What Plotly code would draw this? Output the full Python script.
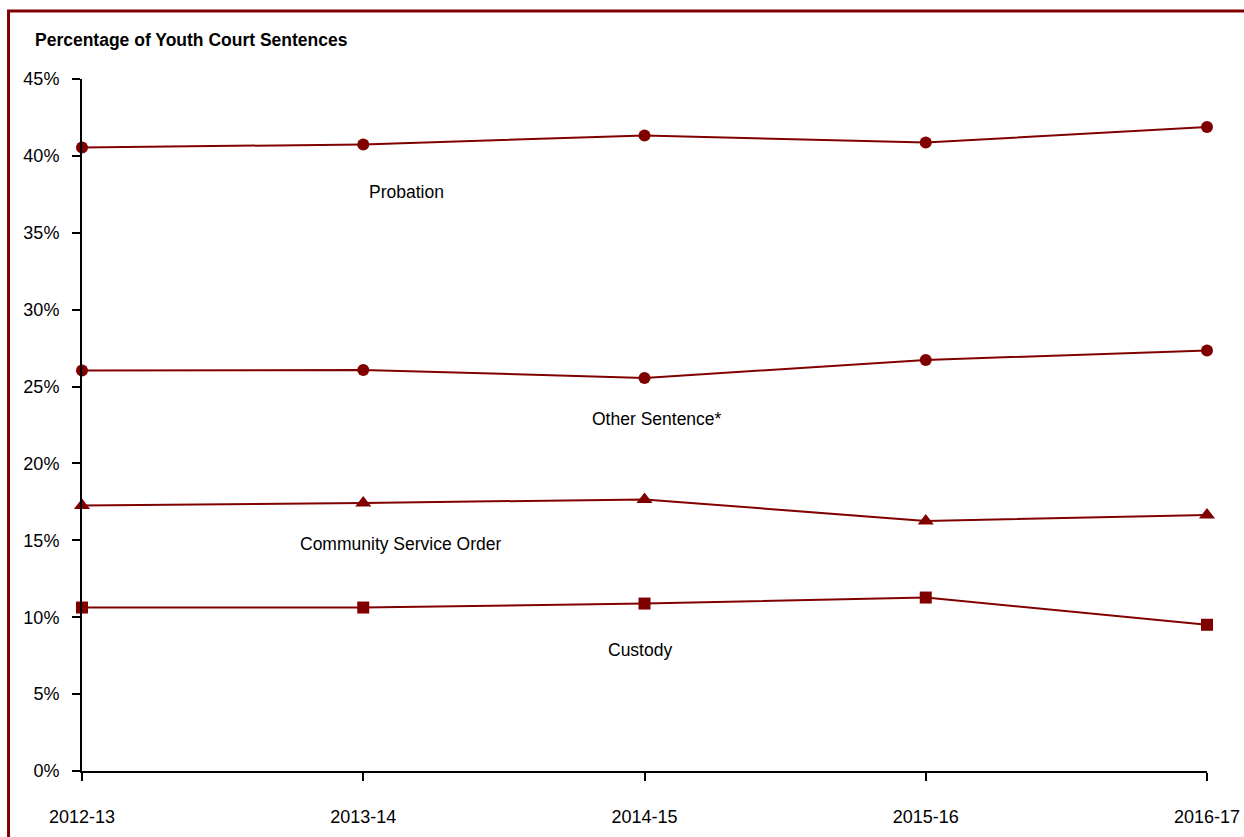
import plotly.graph_objects as go

# Youth court sentences by type, share of all sentences
years = ["2012-13", "2013-14", "2014-15", "2015-16", "2016-17"]
probation = [40.55, 40.74, 41.33, 40.87, 41.88]
other_sentence = [26.05, 26.08, 25.56, 26.73, 27.34]
community_service = [17.27, 17.43, 17.66, 16.26, 16.65]
custody = [10.63, 10.63, 10.89, 11.28, 9.51]
y_ticks = [0, 5, 10, 15, 20, 25, 30, 35, 40, 45]
y_tick_text = [f"{v}%" for v in y_ticks]

RED = "#800000"
FONT = "Liberation Sans Narrow, Arial Narrow, Liberation Sans, Arial, sans-serif"
xpos = list(range(len(years)))

series = [
    ("Probation", probation, "circle", 12),
    ("Other Sentence*", other_sentence, "circle", 12),
    ("Community Service Order", community_service, "triangle-up", 14),
    ("Custody", custody, "square", 12),
]

fig = go.Figure()
for name, vals, sym, size in series:
    fig.add_trace(go.Scatter(
        x=xpos, y=vals, name=name, mode="lines+markers",
        line=dict(color=RED, width=2),
        marker=dict(symbol=sym, size=size, color=RED),
        cliponaxis=False, showlegend=False,
    ))

# Series labels placed beside their lines
labels = [
    ("Probation", 1.152, 37.65),
    ("Other Sentence*", 2.044, 22.89),
    ("Community Service Order", 1.132, 14.76),
    ("Custody", 1.984, 7.87),
]
for text, lx, ly in labels:
    fig.add_annotation(x=lx, y=ly, xref="x", yref="y", text=text,
                       showarrow=False, font=dict(family=FONT, size=17.5, color="#000"))

# Axis heading
fig.add_annotation(x=-0.0436, y=1.0564, xref="paper", yref="paper",
                   text="<b>Percentage of Youth Court Sentences</b>",
                   xanchor="left", yanchor="middle", showarrow=False,
                   font=dict(family=FONT, size=17.5, color="#000"))

# Frame around the chart
fig.add_shape(type="rect", xref="paper", yref="paper",
              x0=-0.0653, x1=1.3, y0=-0.3, y1=1.0983,
              line=dict(color=RED, width=3), fillcolor="rgba(0,0,0,0)", layer="below")

fig.update_layout(
    width=1244, height=837,
    margin=dict(l=82, r=37, t=79, b=66, pad=0, autoexpand=False),
    paper_bgcolor="white", plot_bgcolor="white",
    font=dict(family=FONT, size=18, color="#000"),
    xaxis=dict(
        range=[0, 4], tickmode="array", tickvals=xpos, ticktext=years,
        showline=True, linecolor="#000", linewidth=2,
        ticks="outside", ticklen=8, tickwidth=2, tickcolor="#000",
        showgrid=False, zeroline=False, ticklabelstandoff=20,
        automargin=False,
    ),
    yaxis=dict(
        range=[0, 45], tickmode="array", tickvals=y_ticks, ticktext=y_tick_text,
        showline=True, linecolor="#000", linewidth=2,
        ticks="outside", ticklen=8, tickwidth=2, tickcolor="#000",
        showgrid=False, zeroline=False, ticklabelstandoff=9,
        automargin=False,
    ),
)

fig.write_html("out.html")
